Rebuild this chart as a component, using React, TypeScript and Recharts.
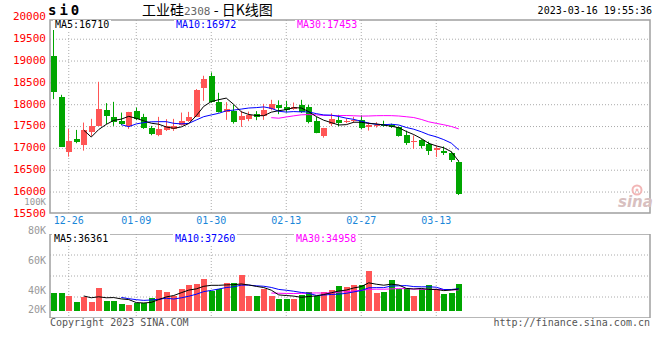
import React from 'react';
import { ComposedChart, Bar, Line, XAxis, YAxis, CartesianGrid, ReferenceArea } from 'recharts';

// ---------- data ----------
const dates = [
  '12-22', '12-23', '12-26', '12-27', '12-28', '12-29', '12-30',
  '01-03', '01-04', '01-05', '01-06',
  '01-09', '01-10', '01-11', '01-12', '01-13',
  '01-16', '01-17', '01-18', '01-19', '01-20',
  '01-30', '01-31', '02-01', '02-02', '02-03',
  '02-06', '02-07', '02-08', '02-09', '02-10',
  '02-13', '02-14', '02-15', '02-16', '02-17',
  '02-20', '02-21', '02-22', '02-23', '02-24',
  '02-27', '02-28', '03-01', '03-02', '03-03',
  '03-06', '03-07', '03-08', '03-09', '03-10',
  '03-13', '03-14', '03-15', '03-16',
];

const opens = [
  19106, 18188, 16925, 17217, 17086, 17384, 17522, 17882, 17722, 17630,
  17515, 17859, 17722, 17469, 17308, 17423, 17439, 17538, 17630, 17715,
  18394, 18663, 18073, 17843, 17859, 17660, 17683, 17791, 17752, 17905,
  17997, 17951, 17905, 17997, 17951, 17630, 17292, 17554, 17653, 17614,
  17618, 17653, 17499, 17504, 17568, 17538, 17481, 17308, 17136, 17194,
  17109, 16952, 16948, 16902, 16688,
];
const highs = [
  19735, 18227, 17446, 17423, 17591, 17676, 18525, 18036, 18066, 17820,
  17836, 17935, 17791, 17515, 17722, 17669, 17676, 17820, 17836, 18358,
  18663, 18739, 18273, 18059, 17997, 17859, 17843, 17853, 18020, 18112,
  18100, 18089, 18050, 18112, 17997, 17722, 17469, 17802, 17768, 17687,
  17722, 17756, 17600, 17600, 17634, 17566, 17499, 17407, 17297, 17210,
  17155, 17067, 17044, 16930, 16723,
];
const lows = [
  18128, 17040, 16810, 17118, 16948, 17285, 17522, 17554, 17515, 17531,
  17446, 17646, 17446, 17301, 17279, 17400, 17400, 17522, 17607, 17715,
  18089, 18043, 17820, 17653, 17568, 17492, 17623, 17646, 17653, 17871,
  17784, 17825, 17882, 17813, 17572, 17347, 17246, 17515, 17504, 17577,
  17584, 17435, 17407, 17476, 17497, 17469, 17269, 17079, 16987, 16998,
  16849, 16803, 16849, 16688, 15931,
];
const closes = [
  18302, 17040, 17171, 17148, 17423, 17515, 17905, 17752, 17614, 17561,
  17836, 17676, 17469, 17338, 17446, 17522, 17522, 17630, 17722, 18342,
  18594, 18073, 17843, 17905, 17614, 17752, 17768, 17722, 17882, 18020,
  17921, 17889, 17951, 17843, 17600, 17361, 17469, 17676, 17572, 17637,
  17641, 17462, 17538, 17527, 17508, 17499, 17292, 17113, 17171, 17056,
  16948, 16998, 16895, 16728, 15958,
];
const volumes = [
  29700, 29700, 24750, 14850, 22600, 14850, 37950, 16500, 16500, 11550,
  9400, 13200, 13200, 21450, 34650, 31350, 24750, 36300, 42900, 44550,
  52800, 33000, 36300, 46200, 46200, 58900, 24750, 24750, 36300, 24750,
  19800, 19800, 19800, 26400, 31350, 24750, 31350, 34150, 40750, 39100,
  42400, 42400, 65500, 29200, 30850, 50650, 35800, 37450, 24250, 35800,
  42400, 35800, 27550, 29200, 44050,
];

const priceTicks = [15500, 16000, 16500, 17000, 17500, 18000, 18500, 19000, 19500, 20000];
const priceGrid = [16000, 16500, 17000, 17500, 18000, 18500, 19000, 19500];
const xTickLabels = ['12-26', '01-09', '01-30', '02-13', '02-27', '03-13'];
const volTickLabels = ['100K', '80K', '60K', '40K', '20K'];

const priceLegend = [
  { name: 'MA5', value: '16710' },
  { name: 'MA10', value: '16972' },
  { name: 'MA30', value: '17453' },
];
const volLegend = [
  { name: 'MA5', value: '36361' },
  { name: 'MA10', value: '37260' },
  { name: 'MA30', value: '34958' },
];

// ---------- styles ----------
const MONO = "'DejaVu Sans Mono', monospace";
const RED = '#ff5555';
const GREEN = '#00a600';
const MA_COLORS = ['#000000', '#0000ff', '#ff00ff'];
const FRAME = '#a0a0a0';
const GRID = '#aaaaaa';
const X_DOMAIN: [number, number] = [-0.5, 79.5];
const PRICE_DOMAIN: [number, number] = [15520, 19940];
const VOL_DOMAIN: [number, number] = [-12000, 126500];

const movingAverage = (arr: number[], n: number) =>
  arr.map((_, i) => {
    if (i < n - 1) return null;
    let s = 0;
    for (let k = i - n + 1; k <= i; k++) s += arr[k];
    return s / n;
  });

const pMa5 = movingAverage(closes, 5);
const pMa10 = movingAverage(closes, 10);
const pMa30 = movingAverage(closes, 30);
const vMa5 = movingAverage(volumes, 5);
const vMa10 = movingAverage(volumes, 10);
const vMa30 = movingAverage(volumes, 30);

const data = dates.map((d, i) => ({
  x: i,
  date: d,
  open: opens[i],
  high: highs[i],
  low: lows[i],
  close: closes[i],
  range: [lows[i], highs[i]],
  vol: volumes[i],
  ma5: pMa5[i],
  ma10: pMa10[i],
  ma30: pMa30[i],
  vma5: vMa5[i],
  vma10: vMa10[i],
  vma30: vMa30[i],
}));

const xTicks = xTickLabels.map((l) => dates.indexOf(l));

// ---------- shapes ----------
function Candle(props: any) {
  const { x, y, width, height, payload } = props;
  if (x == null || y == null || !payload) return null;
  const { open, close, high, low } = payload;
  const color = close >= open ? RED : GREEN;
  const top = Math.min(y, y + height);
  const h = Math.abs(height);
  const span = high - low;
  const py = (v: number) => (span === 0 ? top : top + ((high - v) / span) * h);
  const bTop = py(Math.max(open, close));
  const bBot = py(Math.min(open, close));
  const rx = Math.round(x);
  const cx = rx + Math.floor(width / 2) - 0.5;
  return (
    <g>
      <line x1={cx} x2={cx} y1={top} y2={top + h} stroke={color} strokeWidth={1} />
      <rect
        x={rx}
        y={bTop}
        width={width}
        height={Math.max(1, bBot - bTop)}
        fill={color}
        shapeRendering="crispEdges"
      />
    </g>
  );
}

function VolBar(props: any) {
  const { x, y, width, height, payload } = props;
  if (x == null || y == null || !payload) return null;
  const color = payload.close >= payload.open ? RED : GREEN;
  return (
    <rect
      x={Math.round(x)}
      y={Math.min(y, y + height)}
      width={width}
      height={Math.abs(height)}
      fill={color}
      shapeRendering="crispEdges"
    />
  );
}

// ---------- overlay helpers ----------
const txt = (
  left: number,
  centerY: number,
  content: React.ReactNode,
  style: React.CSSProperties = {},
  key?: string
) => (
  <div
    key={key}
    style={{
      position: 'absolute',
      left,
      top: centerY - 5,
      height: 10,
      lineHeight: '10px',
      fontFamily: MONO,
      fontSize: 10,
      whiteSpace: 'nowrap',
      ...style,
    }}
  >
    {content}
  </div>
);

const rtxt = (
  right: number,
  centerY: number,
  content: React.ReactNode,
  style: React.CSSProperties = {},
  key?: string
) => (
  <div
    key={key}
    style={{
      position: 'absolute',
      right: 660 - right,
      top: centerY - 5,
      height: 10,
      lineHeight: '10px',
      fontFamily: MONO,
      fontSize: 10,
      whiteSpace: 'nowrap',
      textAlign: 'right',
      ...style,
    }}
  >
    {content}
  </div>
);

const legendX = [55, 176, 297];
const volLabelY = [202, 231, 261, 291, 310];

export default function App() {
  return (
    <div
      style={{
        position: 'absolute',
        left: 0,
        top: 0,
        width: 660,
        height: 360,
        background: '#fff',
        overflow: 'hidden',
      }}
    >
      {/* price panel */}
      <div style={{ position: 'absolute', left: 0, top: 0 }}>
        <ComposedChart
          width={660}
          height={230}
          data={data}
          margin={{ top: 20, right: 10, bottom: 0, left: 0 }}
        >
          <CartesianGrid
            stroke={GRID}
            strokeDasharray="1 2"
            horizontalValues={priceGrid}
            verticalValues={xTicks}
          />
          <XAxis
            dataKey="x"
            type="number"
            domain={X_DOMAIN}
            allowDataOverflow
            ticks={xTicks}
            interval={0}
            tickFormatter={(v: number) => dates[v]}
            axisLine={false}
            tickLine={false}
            tickSize={0}
            tickMargin={4}
            height={17}
            tick={{ fill: '#1a87d9', fontSize: 10, fontFamily: MONO }}
          />
          <YAxis
            type="number"
            domain={PRICE_DOMAIN}
            allowDataOverflow
            ticks={priceTicks}
            interval={0}
            width={50}
            axisLine={false}
            tickLine={false}
            tickSize={0}
            tickMargin={4}
            tick={{ fill: '#ff0000', fontSize: 11, fontFamily: MONO, dy: -1 }}
          />
          <Bar dataKey="range" barSize={6} shape={<Candle />} isAnimationActive={false} />
          <Line dataKey="ma30" stroke={MA_COLORS[2]} strokeWidth={1} dot={false} isAnimationActive={false} />
          <Line dataKey="ma10" stroke={MA_COLORS[1]} strokeWidth={1} dot={false} isAnimationActive={false} />
          <Line dataKey="ma5" stroke={MA_COLORS[0]} strokeWidth={1} dot={false} isAnimationActive={false} />
          <ReferenceArea
            x1={X_DOMAIN[0]}
            x2={X_DOMAIN[1]}
            y1={PRICE_DOMAIN[0]}
            y2={PRICE_DOMAIN[1]}
            fill="none"
            fillOpacity={0}
            stroke={FRAME}
            strokeWidth={1.5}
            ifOverflow="visible"
          />
        </ComposedChart>
      </div>

      {/* volume panel */}
      <div style={{ position: 'absolute', left: 0, top: 234 }}>
        <ComposedChart
          width={660}
          height={84}
          data={data}
          margin={{ top: 0, right: 10, bottom: 0, left: 50 }}
        >
          <CartesianGrid
            stroke={GRID}
            strokeDasharray="1 2"
            verticalValues={xTicks}
            horizontalCoordinatesGenerator={({ offset }: any) =>
              [1, 2, 3].map((k) => offset.top + (offset.height * k) / 4)
            }
          />
          <XAxis
            dataKey="x"
            type="number"
            domain={X_DOMAIN}
            allowDataOverflow
            ticks={xTicks}
            hide
          />
          <YAxis type="number" domain={VOL_DOMAIN} allowDataOverflow hide />
          <Bar dataKey="vol" barSize={6} shape={<VolBar />} isAnimationActive={false} />
          <Line dataKey="vma30" stroke={MA_COLORS[2]} strokeWidth={1} dot={false} isAnimationActive={false} />
          <Line dataKey="vma10" stroke={MA_COLORS[1]} strokeWidth={1} dot={false} isAnimationActive={false} />
          <Line dataKey="vma5" stroke={MA_COLORS[0]} strokeWidth={1} dot={false} isAnimationActive={false} />
          <ReferenceArea
            x1={X_DOMAIN[0]}
            x2={X_DOMAIN[1]}
            y1={VOL_DOMAIN[0]}
            y2={VOL_DOMAIN[1]}
            fill="none"
            fillOpacity={0}
            stroke={FRAME}
            strokeWidth={1.5}
            ifOverflow="visible"
          />
        </ComposedChart>
      </div>

      {/* header */}
      <div
        style={{
          position: 'absolute',
          left: 48,
          top: 1,
          height: 18,
          lineHeight: '18px',
          fontFamily: MONO,
          fontSize: 14,
          fontWeight: 'bold',
          letterSpacing: 3,
        }}
      >
        si0
      </div>
      <div
        style={{
          position: 'absolute',
          left: 142,
          top: 1,
          height: 16,
          lineHeight: '16px',
          fontFamily: "'Noto Sans CJK SC', sans-serif",
          fontSize: 14,
          color: '#000',
          whiteSpace: 'nowrap',
        }}
      >
        工业硅<span style={{ color: '#666', fontSize: 11, fontFamily: MONO }}>2308</span> - 日K线图
      </div>
      {rtxt(652, 11, '2023-03-16 19:55:36', { color: '#000' })}

      {/* price legend */}
      {priceLegend.map((p, i) =>
        txt(
          legendX[i],
          25,
          `${p.name}:${p.value}`,
          { color: MA_COLORS[i], background: '#fff', padding: '0 2px', marginLeft: -2 },
          'pl' + i
        )
      )}

      {/* volume legend */}
      {volLegend.map((p, i) =>
        txt(
          legendX[i] - 1,
          239,
          `${p.name}:${p.value}`,
          { color: MA_COLORS[i], background: '#fff', padding: '0 2px', marginLeft: -2 },
          'vl' + i
        )
      )}

      {/* volume axis labels */}
      {volTickLabels.map((l, i) =>
        rtxt(
          46,
          volLabelY[i],
          l,
          i === 0
            ? { color: '#999', fontSize: 9, top: volLabelY[i] - 4, height: 8, lineHeight: '8px' }
            : { color: '#999', height: 9, lineHeight: '9px' },
          'vt' + i
        )
      )}

      {/* watermark */}
      <div style={{ position: 'absolute', left: 614, top: 182 }}>
        <svg width={40} height={28}>
          <circle cx={23} cy={8} r={4.5} fill="none" stroke="#f2b6b6" strokeWidth={2} />
          <circle cx={23} cy={8} r={1.5} fill="#f2b6b6" />
          <text
            x={4}
            y={25}
            fontFamily="'DejaVu Sans', sans-serif"
            fontStyle="italic"
            fontWeight="bold"
            fontSize={15}
            fill="#d8c0c0"
          >
            sina
          </text>
        </svg>
      </div>

      {/* footer */}
      {txt(50, 323, 'Copyright 2023 SINA.COM', { color: '#555' })}
      {rtxt(650, 323, 'http://finance.sina.com.cn', { color: '#555' })}
    </div>
  );
}
